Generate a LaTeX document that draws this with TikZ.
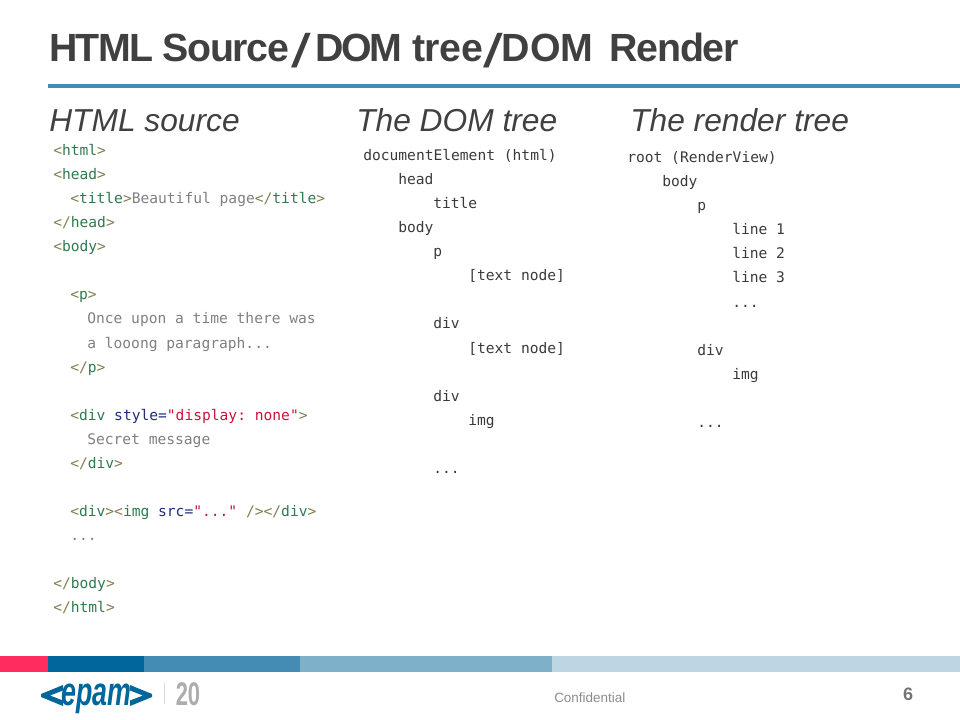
\documentclass[tikz,border=0pt]{standalone}
\usepackage{fontspec}
\setmainfont{Liberation Sans}
\setmonofont{DejaVu Sans Mono}
\definecolor{titlec}{HTML}{404040}
\definecolor{brk}{HTML}{7F7F50}
\definecolor{tagc}{HTML}{2F7A4F}
\definecolor{txtc}{HTML}{808080}
\definecolor{attc}{HTML}{1F2A80}
\definecolor{strc}{HTML}{D0103A}
\definecolor{codec}{HTML}{3A3A3A}
\definecolor{confc}{HTML}{8C8C8C}
\definecolor{barred}{HTML}{FF2D5F}
\definecolor{barone}{HTML}{00669B}
\definecolor{bartwo}{HTML}{448CB2}
\definecolor{barthree}{HTML}{7FB0CA}
\definecolor{barfour}{HTML}{BCD6E3}
\newcommand{\Tg}[1]{\textcolor{brk}{<}\textcolor{tagc}{#1}\textcolor{brk}{>}}
\newcommand{\Tc}[1]{\textcolor{brk}{</}\textcolor{tagc}{#1}\textcolor{brk}{>}}
\newcommand{\Sp}[2]{{\addfontfeature{LetterSpace=#1}#2}}
\newcommand{\Sl}{\raisebox{-4pt}{\mdseries\scalebox{1.8}[1.2]{/}}}
\tikzset{
  code/.style={anchor=base west,inner sep=0pt,yshift=-0.75pt,font=\ttfamily\fontsize{10.95}{13}\selectfont},
  src/.style={code,text=txtc},
  tree/.style={code,text=codec},
  head/.style={anchor=base west,inner sep=0pt,text=titlec,font=\itshape\fontsize{23.8}{28}\selectfont},
}
\begin{document}
\begin{tikzpicture}[x=0.75pt,y=-0.75pt]
\useasboundingbox (0,0) rectangle (960,720);
\node[anchor=base west,inner sep=0pt,text=titlec,font=\bfseries\fontsize{29.5}{32}\selectfont] (title) at (49,62) {\Sp{-4.5}{HTML}\hspace{7.2pt}\Sp{-3.5}{Source}\hspace{1.5pt}\Sl\hspace{3.5pt}\Sp{-7}{DOM}\hspace{7.75pt}\Sp{-1}{tree}\Sl\hspace{-0.75pt}\Sp{-0.5}{DOM}\hspace{12.5pt}\Sp{-3.5}{Render}};
\fill[bartwo] (48,84) rectangle (960,88);
\node[head] (h1) at (49,132) {HTML source};
\node[head] (h2) at (356,132) {The DOM tree};
\node[head] (h3) at (630,132) {The render tree};
% source
\node[src] (s1) at (53,155) {\Tg{html}};
\node[src] (s2) at (53,179) {\Tg{head}};
\node[src] (s3) at (70,203) {\Tg{title}Beautiful page\Tc{title}};
\node[src] (s4) at (53,227) {\Tc{head}};
\node[src] (s5) at (53,251) {\Tg{body}};
\node[src] (s6) at (70,299) {\Tg{p}};
\node[src] (s7) at (87,323) {Once upon a time there was};
\node[src] (s8) at (87,347) {a looong paragraph...};
\node[src] (s9) at (70,371) {\Tc{p}};
\node[src] (s10) at (70,419) {\textcolor{brk}{<}\textcolor{tagc}{div} \textcolor{attc}{style=}\textcolor{strc}{"display: none"}\textcolor{brk}{>}};
\node[src] (s11) at (87,443) {Secret message};
\node[src] (s12) at (70,467) {\Tc{div}};
\node[src] (s13) at (70,515) {\Tg{div}\textcolor{brk}{<}\textcolor{tagc}{img} \textcolor{attc}{src=}\textcolor{strc}{"..."} \textcolor{brk}{/>}\Tc{div}};
\node[src] (s14) at (70,539) {...};
\node[src] (s15) at (53,587) {\Tc{body}};
\node[src] (s16) at (53,611) {\Tc{html}};
% DOM tree
\node[tree] (d1) at (363,160) {documentElement (html)};
\node[tree] (d2) at (398,184) {head};
\node[tree] (d3) at (433,208) {title};
\node[tree] (d4) at (398,232) {body};
\node[tree] (d5) at (433,256) {p};
\node[tree] (d6) at (468,280) {[text node]};
\node[tree] (d7) at (433,328) {div};
\node[tree] (d8) at (468,352) {[text node]};
\node[tree] (d9) at (433,400) {div};
\node[tree] (d10) at (468,424) {img};
\node[tree] (d11) at (433,472) {...};
% render tree
\node[tree] (r1) at (627,162) {root (RenderView)};
\node[tree] (r2) at (662,186) {body};
\node[tree] (r3) at (697,210) {p};
\node[tree] (r4) at (732,234) {line 1};
\node[tree] (r5) at (732,258) {line 2};
\node[tree] (r6) at (732,282) {line 3};
\node[tree] (r7) at (732,306) {...};
\node[tree] (r8) at (697,354) {div};
\node[tree] (r9) at (732,378) {img};
\node[tree] (r10) at (697,426) {...};
% bars
\fill[barred] (0,656) rectangle (48,672);
\fill[barone] (48,656) rectangle (144,672);
\fill[bartwo] (144,656) rectangle (300,672);
\fill[barthree] (300,656) rectangle (552,672);
\fill[barfour] (552,656) rectangle (960,672);
% logo
\fill[barone] (63,685) -- (41,694) -- (41,697) -- (63,706) -- (63,700.5) -- (50,695.5) -- (63,690.5) -- cycle;
\fill[barone] (130,685) -- (152,694) -- (152,697) -- (130,706) -- (130,700.5) -- (143,695.5) -- (130,690.5) -- cycle;
\node[anchor=base,inner sep=0pt,text=barone,font=\bfseries\itshape\fontsize{30}{32}\selectfont] (logo) at (96.5,705) {\scalebox{0.67}[1]{epam}};
\draw[black!15,line width=0.5pt] (164,683) -- (164,704);
\node[anchor=base,inner sep=0pt,text=black!32,font=\bfseries\fontsize{24.6}{26}\selectfont] (twenty) at (188,705) {\scalebox{0.67}[1]{20}};
\node[anchor=base west,inner sep=0pt,text=confc,font=\fontsize{10.1}{12}\selectfont] (conf) at (554,702) {Confidential};
\node[anchor=base,inner sep=0pt,text=black!55,font=\bfseries\fontsize{13.5}{14}\selectfont] (num) at (908,700) {6};
\end{tikzpicture}
\end{document}
